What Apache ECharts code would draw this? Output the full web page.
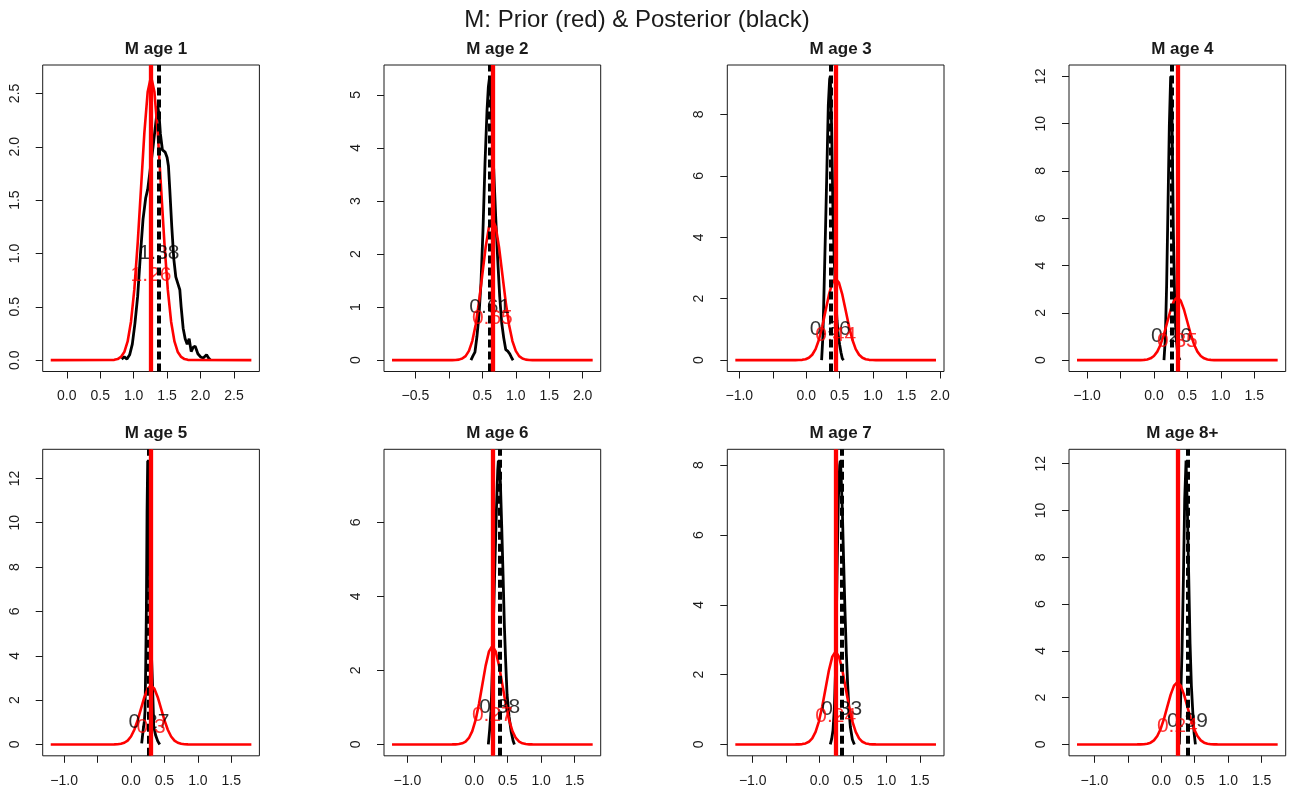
<!DOCTYPE html>
<html>
<head>
<meta charset="utf-8">
<script src="https://cdn.jsdelivr.net/npm/echarts@6/dist/echarts.min.js"></script>
<style>
  html, body { margin: 0; padding: 0; background: #ffffff; }
  #chart { width: 1289px; height: 790px; }
</style>
</head>
<body>
<div id="chart"></div>
<script>
// ---- data -------------------------------------------------------------
const mainTitle = 'M: Prior (red) & Posterior (black)';
const panelTitles = ['M age 1', 'M age 2', 'M age 3', 'M age 4',
                     'M age 5', 'M age 6', 'M age 7', 'M age 8+'];

// prior means (red) and posterior medians (black)
const priorMeans  = [1.26, 0.65, 0.44, 0.35, 0.3, 0.27, 0.24, 0.24];
const postMedians = [1.38, 0.61, 0.36, 0.26, 0.27, 0.38, 0.33, 0.39];

// prior density shape around its mean (same spread in every panel)
const priorOffsets = [-1.5, -0.6, -0.55, -0.5, -0.45, -0.4, -0.35, -0.3, -0.25, -0.2, -0.15, -0.1, -0.05,
                      0, 0.05, 0.1, 0.15, 0.2, 0.25, 0.3, 0.35, 0.4, 0.45, 0.5, 0.55, 0.6, 1.5];
const priorDensity = [0, 0.001, 0.003, 0.01, 0.03, 0.076, 0.175, 0.36, 0.663, 1.094, 1.613, 2.13, 2.516,
                      2.66, 2.516, 2.13, 1.613, 1.094, 0.663, 0.36, 0.175, 0.076, 0.03, 0.01, 0.003, 0.001, 0];

// posterior densities
const post1X = [0.82, 0.86, 0.9, 0.94, 0.98, 1.02, 1.06, 1.1, 1.14, 1.18, 1.21, 1.25, 1.29, 1.33, 1.36, 1.38, 1.4,
                1.43, 1.47, 1.5, 1.52, 1.54, 1.57, 1.6, 1.63, 1.66, 1.69, 1.71, 1.74, 1.77, 1.8, 1.83, 1.86,
                1.89, 1.92, 1.96, 2.0, 2.04, 2.09, 2.12, 2.15];
const post1Y = [0.01, 0.03, 0.01, 0.05, 0.15, 0.35, 0.6, 0.98, 1.32, 1.52, 1.6, 1.8, 2.0, 2.22, 2.38, 2.3, 2.12,
                1.97, 1.95, 1.9, 1.82, 1.6, 1.25, 0.95, 0.78, 0.72, 0.66, 0.5, 0.3, 0.2, 0.15, 0.2, 0.08,
                0.12, 0.13, 0.06, 0.03, 0.02, 0.05, 0.02, 0];
const post2X = [0.33, 0.36, 0.39, 0.42, 0.45, 0.48, 0.51, 0.54, 0.57, 0.59, 0.61, 0.63, 0.65, 0.67, 0.7, 0.73,
                0.76, 0.79, 0.82, 0.85, 0.88, 0.91, 0.94, 0.96];
const post2Y = [0, 0.08, 0.15, 0.45, 0.85, 1.45, 2.45, 3.7, 4.7, 5.15, 5.35, 4.95, 4.3, 3.6, 2.7, 1.9,
                1.2, 0.7, 0.42, 0.2, 0.17, 0.12, 0.04, 0];
const post3X = [0.23, 0.25, 0.27, 0.29, 0.31, 0.33, 0.35, 0.36, 0.38, 0.4, 0.42, 0.44, 0.46, 0.48, 0.5, 0.52, 0.54, 0.56];
const post3Y = [0, 0.8, 2.6, 4.4, 6.3, 8.3, 9.15, 9.24, 7.6, 4.8, 3.2, 2.05, 1.3, 0.8, 0.5, 0.25, 0.05, 0];
const post4X = [0.15, 0.17, 0.19, 0.21, 0.23, 0.25, 0.27, 0.29, 0.31, 0.33, 0.35, 0.37, 0.39];
const post4Y = [0, 0.9, 3.2, 6.5, 9.9, 12.0, 10.4, 5.5, 2.6, 1.0, 0.42, 0.12, 0];
const post5X = [0.16, 0.18, 0.2, 0.21, 0.22, 0.23, 0.24, 0.25, 0.26, 0.27, 0.28, 0.3, 0.32, 0.34, 0.37, 0.4, 0.43];
const post5Y = [0.05, 0.6, 1.05, 1.5, 3.5, 6.0, 10.5, 12.8, 11.5, 9.0, 6.8, 4.5, 2.9, 0.8, 0.4, 0.15, 0];
const post6X = [0.21, 0.23, 0.25, 0.27, 0.29, 0.31, 0.33, 0.35, 0.36, 0.37, 0.39, 0.41, 0.43, 0.45, 0.47, 0.49,
                0.52, 0.55, 0.58, 0.6];
const post6Y = [0, 0.4, 0.9, 2.0, 3.6, 5.0, 6.3, 7.4, 7.67, 7.6, 7.1, 5.9, 4.6, 3.2, 2.2, 1.35,
                0.75, 0.36, 0.1, 0];
const post7X = [0.16, 0.18, 0.2, 0.22, 0.24, 0.26, 0.28, 0.3, 0.31, 0.32, 0.34, 0.36, 0.38, 0.4, 0.42, 0.44,
                0.46, 0.49, 0.52];
const post7Y = [0, 0.15, 0.4, 1.0, 2.2, 4.8, 7.0, 8.0, 8.13, 7.8, 6.7, 5.2, 3.8, 2.6, 1.7, 0.96,
                0.5, 0.14, 0];
const post8X = [0.27, 0.29, 0.31, 0.33, 0.35, 0.37, 0.39, 0.41, 0.43, 0.45, 0.47, 0.49, 0.51];
const post8Y = [0, 2.0, 4.0, 7.0, 10.5, 12.13, 10.0, 7.2, 4.3, 2.5, 1.43, 0.5, 0];

const postX = [post1X, post2X, post3X, post4X, post5X, post6X, post7X, post8X];
const postY = [post1Y, post2Y, post3Y, post4Y, post5Y, post6Y, post7Y, post8Y];

// axis ticks (all tick marks) and the ticks that carry a label
const xTicks = [
  [0, 0.5, 1, 1.5, 2, 2.5],
  [-0.5, 0, 0.5, 1, 1.5, 2],
  [-1, -0.5, 0, 0.5, 1, 1.5, 2],
  [-1, -0.5, 0, 0.5, 1, 1.5],
  [-1, -0.5, 0, 0.5, 1, 1.5],
  [-1, -0.5, 0, 0.5, 1, 1.5],
  [-1, -0.5, 0, 0.5, 1, 1.5],
  [-1, -0.5, 0, 0.5, 1, 1.5]
];
const xTickLabels = [
  [0, 0.5, 1, 1.5, 2, 2.5],
  [-0.5, 0.5, 1, 1.5, 2],
  [-1, 0, 0.5, 1, 1.5, 2],
  [-1, 0, 0.5, 1, 1.5],
  [-1, 0, 0.5, 1, 1.5],
  [-1, 0, 0.5, 1, 1.5],
  [-1, 0, 0.5, 1, 1.5],
  [-1, 0, 0.5, 1, 1.5]
];
const yTicks = [
  [0, 0.5, 1, 1.5, 2, 2.5],
  [0, 1, 2, 3, 4, 5],
  [0, 2, 4, 6, 8],
  [0, 2, 4, 6, 8, 10, 12],
  [0, 2, 4, 6, 8, 10, 12],
  [0, 2, 4, 6],
  [0, 2, 4, 6, 8],
  [0, 2, 4, 6, 8, 10, 12]
];
const yLabelDecimals = [1, 0, 0, 0, 0, 0, 0, 0];

// ---- layout -----------------------------------------------------------
const colLeft = [42.7, 384, 727.3, 1069];
const plotW = 216.7;
const rowTop = [65, 449.3];
const plotH = 306.5;
const ink = '#1a1a1a';
const font = '"Liberation Sans", Arial, Helvetica, sans-serif';

const fmtNum = (v, d) => {
  const s = Math.abs(v).toFixed(d);
  return v < 0 ? '\u2212' + s : s;
};

const grids = [], xAxes = [], yAxes = [], series = [];
const titles = [{
  text: mainTitle,
  left: 632, top: 3, textAlign: 'center',
  textStyle: { fontFamily: font, fontSize: 24, fontWeight: 'normal', color: ink }
}];

for (let i = 0; i < 8; i++) {
  const r = Math.floor(i / 4), c = i % 4;
  const left = colLeft[c], top = rowTop[r];
  grids.push({ left: left, top: top, width: plotW, height: plotH, containLabel: false,
               show: true, borderColor: ink, borderWidth: 1, backgroundColor: 'transparent' });

  titles.push({
    text: panelTitles[i],
    left: left + plotW / 2, top: top - 29, textAlign: 'center',
    textStyle: { fontFamily: font, fontSize: 17, fontWeight: 'bold', color: ink }
  });

  // ranges: prior spans mean +/- 1.5, padded 4% each side
  const m = priorMeans[i];
  const xlo = m - 1.5, xhi = m + 1.5, xpad = 0.04 * (xhi - xlo);
  const ymax = Math.max(Math.max(...priorDensity), Math.max(...postY[i]));
  const ypad = 0.04 * ymax;

  xAxes.push({
    type: 'value', gridIndex: i, min: xlo - xpad, max: xhi + xpad,
    axisLine: { show: false, onZero: false },
    splitLine: { show: false },
    axisTick: { show: true, length: 7, inside: false, customValues: xTicks[i],
                lineStyle: { color: ink, width: 1 } },
    axisLabel: { show: true, customValues: xTickLabels[i], margin: 18,
                 fontFamily: font, fontSize: 14, color: ink,
                 formatter: v => fmtNum(v, 1) }
  });
  yAxes.push({
    type: 'value', gridIndex: i, min: -ypad, max: ymax + ypad,
    axisLine: { show: false, onZero: false },
    splitLine: { show: false },
    axisTick: { show: true, length: 7, inside: false, customValues: yTicks[i],
                lineStyle: { color: ink, width: 1 } },
    axisLabel: { show: true, customValues: yTicks[i], margin: 21, rotate: 90,
                 fontFamily: font, fontSize: 14, color: ink,
                 formatter: v => fmtNum(v, yLabelDecimals[i]) }
  });

  // posterior density (black)
  series.push({
    type: 'line', xAxisIndex: i, yAxisIndex: i, z: 2,
    data: postX[i].map((x, k) => [x, postY[i][k]]),
    symbol: 'none', clip: true, animation: false, silent: true,
    lineStyle: { color: '#000000', width: 2.8 }
  });
  // prior density (red)
  series.push({
    type: 'line', xAxisIndex: i, yAxisIndex: i, z: 3,
    data: priorOffsets.map((d, k) => [m + d, priorDensity[k]]),
    symbol: 'none', clip: true, animation: false, silent: true,
    lineStyle: { color: '#ff0000', width: 2.6 }
  });
  // value labels
  series.push({
    type: 'scatter', xAxisIndex: i, yAxisIndex: i, z: 4,
    symbolSize: 1, itemStyle: { color: 'rgba(0,0,0,0)' },
    animation: false, silent: true,
    data: [
      { value: [postMedians[i], 1.0], label: { color: '#000000' } },
      { value: [m, 0.8], label: { color: '#ff0000' } }
    ],
    label: { show: true, position: 'inside', fontFamily: font, fontSize: 21,
             formatter: p => String(p.value[0]) }
  });
  // posterior median (dashed black) and prior mean (solid red) reference lines
  series.push({
    type: 'line', xAxisIndex: i, yAxisIndex: i, z: 5, data: [], animation: false, silent: true,
    markLine: {
      symbol: ['none', 'none'], silent: true, animation: false,
      label: { show: false },
      lineStyle: { color: '#000000', width: 4, type: [8, 4] },
      data: [{ xAxis: postMedians[i] }]
    }
  });
  series.push({
    type: 'line', xAxisIndex: i, yAxisIndex: i, z: 6, data: [], animation: false, silent: true,
    markLine: {
      symbol: ['none', 'none'], silent: true, animation: false,
      label: { show: false },
      lineStyle: { color: '#ff0000', width: 4.3, type: 'solid' },
      data: [{ xAxis: m }]
    }
  });
}

const chart = echarts.init(document.getElementById('chart'), null, { renderer: 'canvas' });
chart.setOption({
  backgroundColor: '#ffffff',
  animation: false,
  title: titles,
  grid: grids,
  xAxis: xAxes,
  yAxis: yAxes,
  series: series
});
</script>
</body>
</html>
